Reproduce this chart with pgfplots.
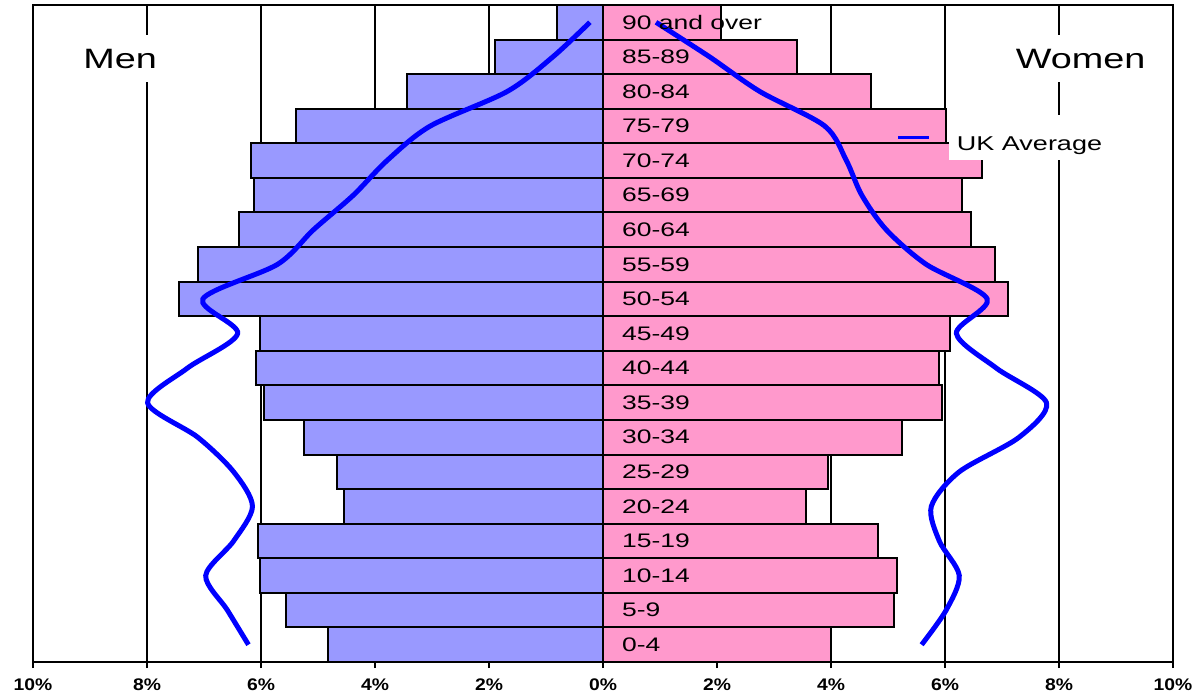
\documentclass[border=0pt]{standalone}
\usepackage{pgfplots}
\pgfplotsset{compat=1.18}
\usepackage{fontspec}
\setmainfont{Liberation Sans}
\newfontfamily\widefont[FakeStretch=1.35]{Liberation Sans}
\newfontfamily\tickfont[FakeStretch=1.15]{Liberation Sans}
\definecolor{menbar}{HTML}{9999FF}
\definecolor{womenbar}{HTML}{FF99CC}

\begin{document}
\begin{tikzpicture}
\begin{axis}[
  scale only axis, width=570pt, height=328.5pt,
  xmin=-10, xmax=10, ymin=-0.5, ymax=18.5,
  xtick={-10,-8,...,10}, ytick=\empty,
  xmajorgrids, grid style={black, line width=1.2pt},
  axis line style={black, line width=1pt},
  xtick pos=bottom, tick align=outside, major tick length=3pt,
  tick style={black, line width=1pt},
  /pgf/number format/assume math mode=true,
  xticklabel={\pgfmathparse{abs(\tick)}\pgfmathprintnumber[fixed,precision=0]{\pgfmathresult}\%},
  xticklabel style={font=\tickfont\bfseries\fontsize{8.4}{10}\selectfont, yshift=-2pt},
  clip=false,
  legend image code/.code={\draw[#1, line width=1.5pt] (0pt,0pt) -- (15.5pt,0pt);},
  legend style={draw=none, fill=none, at={(axis cs:5.15,14.68)}, anchor=west,
    inner sep=0pt, font=\widefont\fontsize{10}{12}\selectfont,
    /tikz/every odd column/.append style={column sep=9pt},
    nodes={fill=white, inner xsep=4pt, inner ysep=0pt, text height=18pt, text depth=4.5pt}},
]
% men (left, negative)
\addplot[xbar, bar width=1, bar shift=0pt, fill=menbar, draw=black, line width=1pt, forget plot]
  coordinates {(-4.82,0) (-5.57,1) (-6.01,2) (-6.06,3) (-4.55,4) (-4.66,5) (-5.25,6)
    (-5.95,7) (-6.08,8) (-6.01,9) (-7.44,10) (-7.11,11) (-6.39,12) (-6.13,13)
    (-6.18,14) (-5.39,15) (-3.43,16) (-1.89,17) (-0.81,18)};
% women (right)
\addplot[xbar, bar width=1, bar shift=0pt, fill=womenbar, draw=black, line width=1pt, forget plot]
  coordinates {(4.00,0) (5.10,1) (5.15,2) (4.82,3) (3.56,4) (3.95,5) (5.25,6)
    (5.95,7) (5.90,8) (6.08,9) (7.11,10) (6.88,11) (6.46,12) (6.29,13)
    (6.65,14) (6.02,15) (4.71,16) (3.40,17) (2.07,18)};
% UK average
\addplot[color=blue, line width=2.5pt, smooth, forget plot]
  coordinates {(-6.22,0) (-6.59,1) (-6.97,2) (-6.48,3) (-6.15,4) (-6.48,5) (-7.11,6)
    (-7.99,7) (-7.29,8) (-6.41,9) (-7.02,10) (-5.71,11) (-5.08,12) (-4.38,13)
    (-3.79,14) (-3.03,15) (-1.68,16) (-0.88,17) (-0.23,18)};
\addplot[color=blue, line width=2.5pt, smooth]
  coordinates {(5.59,0) (6.02,1) (6.25,2) (5.90,3) (5.76,4) (6.25,5) (7.30,6)
    (7.78,7) (6.90,8) (6.20,9) (6.74,10) (5.67,11) (4.97,12) (4.54,13)
    (4.27,14) (3.89,15) (2.75,16) (1.87,17) (0.93,18)};
\addlegendentry{UK Average}
% age group labels
\addplot[draw=none, mark=none, forget plot, nodes near coords, point meta=explicit symbolic,
  nodes near coords style={anchor=west, inner sep=0pt, text=black,
    font=\widefont\fontsize{9.8}{11}\selectfont}]
  coordinates {(0.33,0)[0-4] (0.33,1)[5-9] (0.33,2)[10-14] (0.33,3)[15-19] (0.33,4)[20-24]
    (0.33,5)[25-29] (0.33,6)[30-34] (0.33,7)[35-39] (0.33,8)[40-44] (0.33,9)[45-49]
    (0.33,10)[50-54] (0.33,11)[55-59] (0.33,12)[60-64] (0.33,13)[65-69] (0.33,14)[70-74]
    (0.33,15)[75-79] (0.33,16)[80-84] (0.33,17)[85-89] (0.33,18)[90 and over]};
\node[fill=white, inner xsep=3pt, inner ysep=7pt, font=\widefont\fontsize{14}{16}\selectfont] at (axis cs:-8.47,16.95) {Men};
\node[fill=white, inner xsep=3pt, inner ysep=7pt, font=\widefont\fontsize{14}{16}\selectfont] at (axis cs:8.38,16.95) {Women};
\end{axis}
\pgfresetboundingbox
\path (current axis.south west) ++(-16.5pt,-18pt) rectangle ++(599.5pt,349pt);
\end{tikzpicture}
\end{document}
